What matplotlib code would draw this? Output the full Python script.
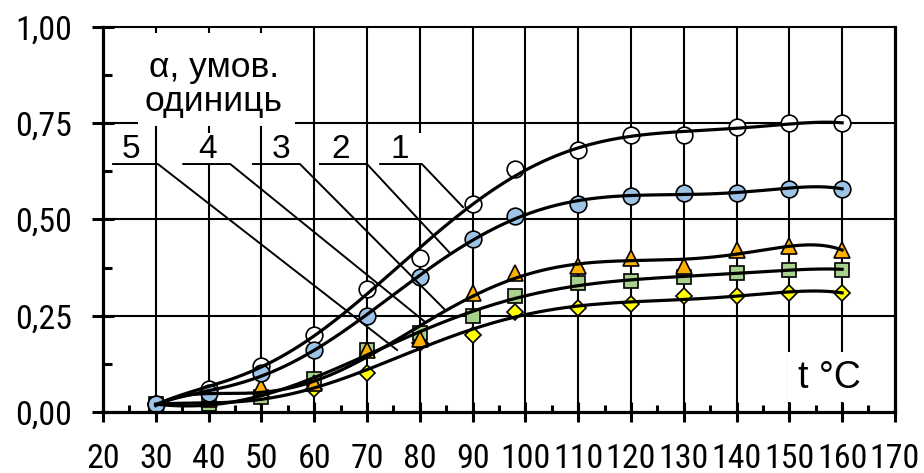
import matplotlib

matplotlib.use("Agg")

import matplotlib.pyplot as plt
import numpy as np
from matplotlib.patches import Rectangle
from matplotlib.ticker import FixedLocator, MultipleLocator


# Temperature, °C
TEMPS = [30, 40, 50, 60, 70, 80, 90, 98, 110, 120, 130, 140, 150, 160]

# alpha, conventional units, one list per curve
ALPHA_1 = [0.02, 0.06, 0.12, 0.20, 0.32, 0.40, 0.54, 0.63, 0.68, 0.72, 0.72, 0.74, 0.75, 0.75]
ALPHA_2 = [0.02, 0.05, 0.10, 0.16, 0.25, 0.35, 0.45, 0.51, 0.54, 0.56, 0.57, 0.57, 0.58, 0.58]
ALPHA_3 = [0.02, 0.035, 0.065, 0.075, 0.16, 0.19, 0.31, 0.36, 0.38, 0.40, 0.38, 0.42, 0.43, 0.42]
ALPHA_4 = [0.02, 0.02, 0.04, 0.085, 0.16, 0.205, 0.25, 0.30, 0.335, 0.34, 0.35, 0.36, 0.37, 0.37]
ALPHA_5 = [0.02, 0.02, 0.04, 0.06, 0.10, 0.18, 0.20, 0.26, 0.27, 0.28, 0.30, 0.30, 0.31, 0.31]

CURVE_LABELS = ["1", "2", "3", "4", "5"]

X_TICKS = list(range(20, 171, 10))
Y_TICKS = [0.0, 0.25, 0.5, 0.75, 1.0]
Y_TICK_LABELS = ["0,00", "0,25", "0,50", "0,75", "1,00"]

FILL_COLORS = ["white", "#9dc3e6", "#ffb000", "#a9d18e", "#ffff00"]
MARKERS = ["o", "o", "^", "s", "D"]
MARKER_SIZES = [12, 12, 12, 10.5, 8]
# stacking of the marker sets where they overlap at low temperatures
MARKER_ZORDER = [3.3, 3.4, 3.2, 3.1, 3.0]

TREND_DEGREE = 6

NARROW = ["Roboto Condensed", "DejaVu Sans"]
REGULAR = ["Liberation Sans", "DejaVu Sans"]


def trend(x, y, x_fine):
    # polynomial trend line over the measured points
    xs = (np.asarray(x, float) - 95.0) / 65.0
    coef = np.polyfit(xs, np.asarray(y, float), TREND_DEGREE)
    return np.polyval(coef, (x_fine - 95.0) / 65.0)


def main() -> None:
    plt.rcParams["font.family"] = REGULAR
    fig = plt.figure(figsize=(9.24, 4.73), dpi=100)
    ax = fig.add_axes([0.1115, 0.129, 0.857, 0.814])

    ax.set_xlim(20, 170)
    ax.set_ylim(0, 1.0)

    for x in X_TICKS[1:-1]:
        ax.axvline(x, color="black", lw=1.5, zorder=1)
    for y in Y_TICKS[1:-1]:
        ax.axhline(y, color="black", lw=1.5, zorder=1)

    series = [ALPHA_1, ALPHA_2, ALPHA_3, ALPHA_4, ALPHA_5]
    x_fine = np.linspace(TEMPS[0], TEMPS[-1], 300)
    for values, color, marker, size, z in zip(series, FILL_COLORS, MARKERS,
                                              MARKER_SIZES, MARKER_ZORDER):
        ax.plot(TEMPS, values, linestyle="none", marker=marker, markersize=size,
                markerfacecolor=color, markeredgecolor="black", markeredgewidth=1.2,
                zorder=z, clip_on=False)
        ax.plot(x_fine, trend(TEMPS, values, x_fine), color="black", lw=2.3, zorder=4)

    # leader lines from the curve numbers to the curves
    leaders = [
        [(72.5, 80.4), (88.2, 0.532)],
        [(61.1, 70.0), (85.7, 0.413)],
        [(48.4, 57.3), (84.8, 0.265)],
        [(35.2, 44.1), (81.0, 0.234)],
        [(21.9, 30.4), (75.7, 0.161)],
    ]
    label_left = [74.4, 63.2, 51.9, 38.0, 23.5]
    row_y = 0.644
    for label, (span, end), left in zip(CURVE_LABELS, leaders, label_left):
        ax.add_patch(Rectangle((left - 1.5, 0.647), 7.6, 0.078, facecolor="white",
                               edgecolor="none", zorder=5))
        ax.text(left, 0.659, label, fontsize=24, ha="left", va="baseline", zorder=6)
        ax.plot([span[0], span[1], end[0]], [row_y, row_y, end[1]],
                color="black", lw=1.4, zorder=6)

    # axis title boxes
    ax.add_patch(Rectangle((26.6, 0.743), 29.8, 0.241, facecolor="white",
                           edgecolor="none", zorder=5))
    ax.text(41.0, 0.850, "α, умов.\nодиниць", fontsize=25.5, ha="center", va="center",
            linespacing=1.05, zorder=6)
    ax.add_patch(Rectangle((149.7, 0.026), 14.5, 0.130, facecolor="white",
                           edgecolor="none", zorder=5))
    ax.text(157.6, 0.088, "t °C", fontsize=27, ha="center", va="center", zorder=6)

    ax.xaxis.set_major_locator(FixedLocator(X_TICKS))
    ax.xaxis.set_minor_locator(MultipleLocator(5))
    ax.yaxis.set_major_locator(FixedLocator(Y_TICKS))
    ax.yaxis.set_minor_locator(MultipleLocator(0.125))
    ax.set_yticklabels(Y_TICK_LABELS)

    ax.tick_params(axis="both", which="major", direction="inout", width=2.2,
                   labelsize=24.5, colors="black")
    ax.tick_params(axis="x", which="major", length=14, pad=15)
    ax.tick_params(axis="y", which="major", length=16, pad=14)
    ax.tick_params(axis="x", which="minor", direction="in", length=5, width=2.2)
    ax.tick_params(axis="y", which="minor", direction="in", length=6.5, width=2.2)
    for lbl in ax.get_xticklabels() + ax.get_yticklabels():
        lbl.set_family(NARROW)

    for side in ["left", "bottom", "right"]:
        ax.spines[side].set_linewidth(2.3)
    ax.spines["top"].set_linewidth(1.5)
    for spine in ax.spines.values():
        spine.set_zorder(7)

    fig.savefig("out.png", dpi=100)
    plt.close(fig)


if __name__ == "__main__":
    main()
